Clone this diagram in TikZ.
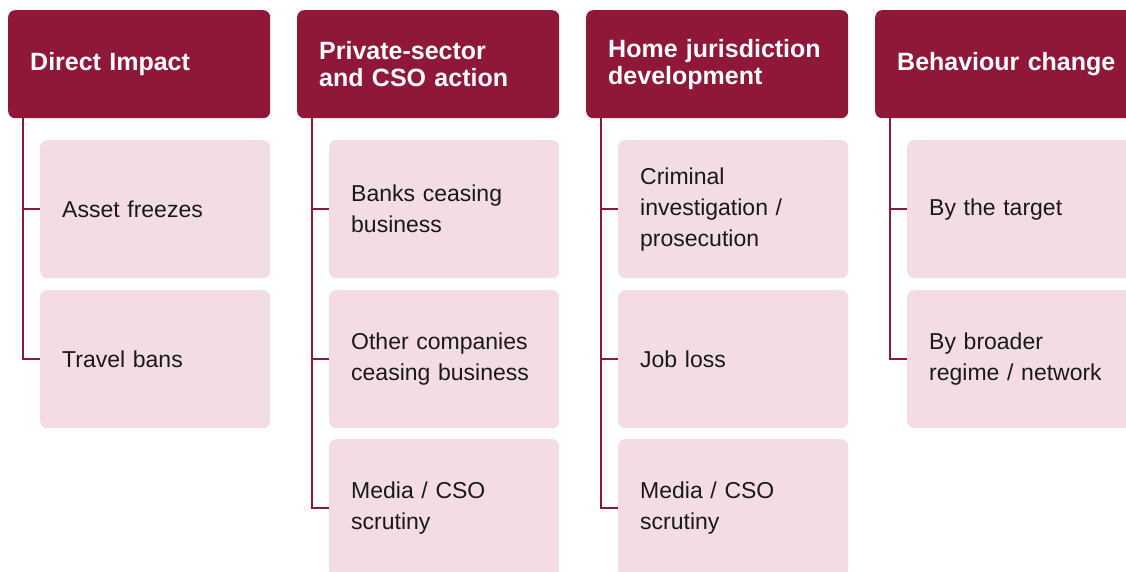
\documentclass[tikz,border=0pt]{standalone}
\usepackage{fontspec}
\setmainfont[WordSpace=0.8]{Liberation Sans}
\definecolor{hdr}{HTML}{8F1838}
\definecolor{pink}{HTML}{F3DDE2}
\begin{document}
\begin{tikzpicture}[x=1pt,y=-1pt,
  head/.style={draw=none,fill=hdr,rounded corners=7pt,anchor=north west,
    minimum width=262pt,minimum height=108pt,inner xsep=22pt,inner ysep=0pt,
    text width=218pt,align=left,text=white,font=\bfseries\fontsize{25}{27}\selectfont},
  item/.style={draw=none,fill=pink,rounded corners=7pt,anchor=north west,
    minimum width=230pt,minimum height=138pt,inner xsep=22pt,inner ysep=0pt,
    text width=186pt,align=left,text=black!90,font=\fontsize{23}{31}\selectfont},
  link/.style={draw=hdr,line width=2pt}]
\useasboundingbox (0,0) rectangle (1126,572);
% headers
\node[head] (h1) at (8,10) {Direct Impact};
\node[head] (h2) at (297,10) {Private-sector\\and CSO action};
\node[head] (h3) at (586,10) {Home jurisdiction\\development};
\node[head,text width=240pt] (h4) at (875,10) {Behaviour change};
% column 1
\node[item] (c11) at (40,140) {Asset freezes};
\node[item] (c12) at (40,290) {Travel bans};
% column 2
\node[item] (c21) at (329,140) {Banks ceasing\\business};
\node[item] (c22) at (329,290) {Other companies\\ceasing business};
\node[item] (c23) at (329,439) {Media / CSO\\scrutiny};
% column 3
\node[item] (c31) at (618,140) {Criminal\\investigation /\\prosecution};
\node[item] (c32) at (618,290) {Job loss};
\node[item] (c33) at (618,439) {Media / CSO\\scrutiny};
% column 4
\node[item] (c41) at (907,140) {By the target};
\node[item] (c42) at (907,290) {By broader\\regime / network};
% connectors
\foreach \h/\c in {h1/c11,h1/c12,h2/c21,h2/c22,h2/c23,h3/c31,h3/c32,h3/c33,h4/c41,h4/c42}
  \draw[link] ([xshift=14.5pt]\h.south west) |- (\c.west);
\end{tikzpicture}
\end{document}
